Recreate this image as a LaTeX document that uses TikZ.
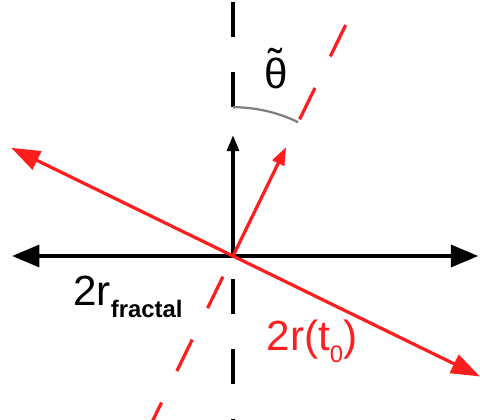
\documentclass[tikz,border=0pt]{standalone}
\usepackage{fontspec}
\setmainfont{Liberation Sans}
\usetikzlibrary{arrows.meta}
\definecolor{ray}{HTML}{FF1E1E}
\definecolor{arcgray}{HTML}{7F7F7F}
\newcommand{\labelfont}{\fontsize{30}{36}\selectfont}
\newcommand{\lowsub}[1]{\raisebox{-0.32cm}{\fontsize{17}{20}\selectfont #1}}
\newcommand{\tildetheta}{\ooalign{θ\cr\hidewidth\raisebox{0.22em}{\char"02DC}\hidewidth\cr}}

\begin{document}
\begin{tikzpicture}[line width=2.3pt,
  bighead/.tip={Triangle[length=0.68cm,width=0.55cm]},
  redhead/.tip={Triangle[length=0.72cm,width=0.5cm]},
  guide/.style={dash pattern=on 0.875cm off 0.875cm,line width=2.3pt}]
\useasboundingbox (-5.825,-4.1) rectangle (6.175,6.4);
\coordinate (o) at (0,0);
\coordinate (xl) at (-5.52,0);\coordinate (xr) at (6.13,0);
\coordinate (up) at (0,3.02);
\coordinate (vt) at (0,3.72);\coordinate (vtt) at (0,6.5);
\coordinate (vb) at (0,-0.575);\coordinate (vbb) at (0,-4.2);
\coordinate (rt) at (64:3.03);
\coordinate (rl) at (154:6.17);\coordinate (rr) at (-26:6.87);
\coordinate (dt) at (64:3.8);\coordinate (dtt) at (64:7.3);
\coordinate (db) at (244:0.575);\coordinate (dbb) at (244:4.8);
% guide lines
\draw[guide] (vt) -- (vtt);
\draw[guide] (vb) -- (vbb);
\draw[guide,ray] (dt) -- (dtt);
\draw[guide,ray] (db) -- (dbb);
\draw[arcgray,line width=1.6pt] (vt) arc[start angle=90,end angle=64,radius=3.72];
% arrows
\draw[bighead-bighead] (xl) -- (xr);
\draw[-{Triangle[length=0.4cm,width=0.3cm]}] (o) -- (up);
\draw[ray,redhead-redhead] (rl) -- (rr);
\draw[ray,-{Triangle[length=0.45cm,width=0.32cm]}] (o) -- (rt);
% labels
\node[font=\labelfont,inner sep=0] (theta) at (1.075,4.575) {\tildetheta};
\node[anchor=base west,inner sep=0,font=\labelfont] (rfrac) at (-4.03,-1.225) {2r\lowsub{\bfseries fractal}};
\node[anchor=base west,inner sep=0,font=\labelfont,text=ray] (rzero) at (0.8,-2.35) {2r(t\lowsub{0})};
\end{tikzpicture}
\end{document}
